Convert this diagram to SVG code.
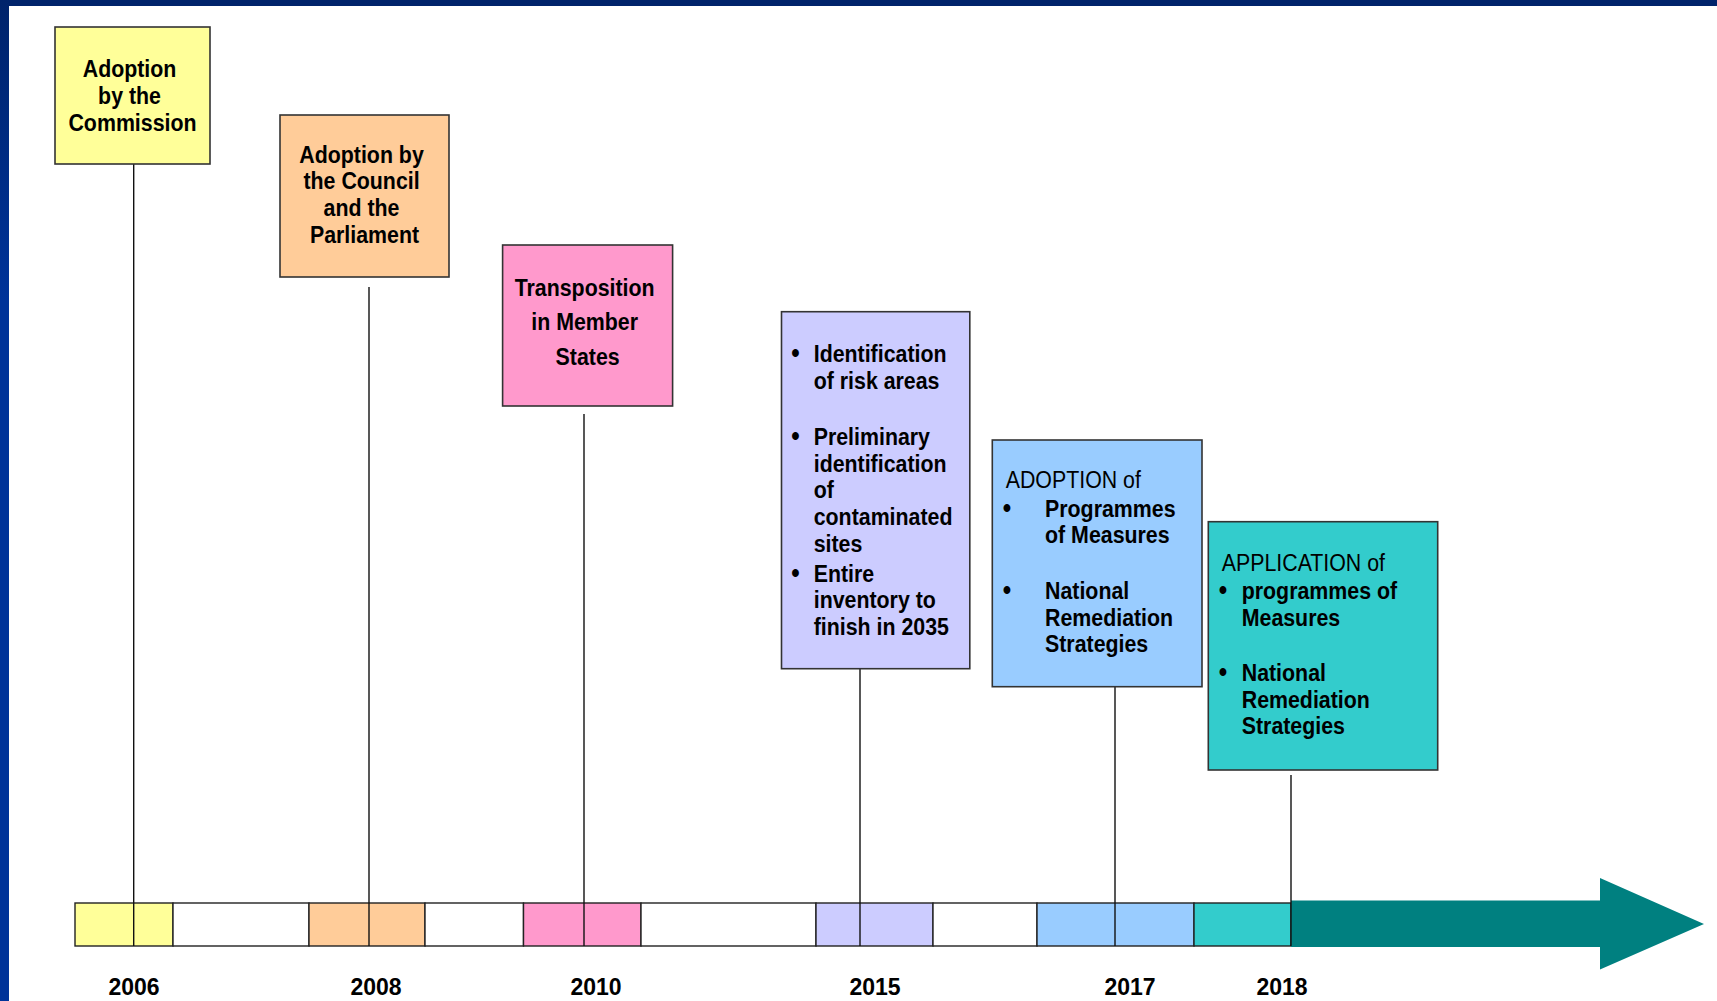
<svg xmlns="http://www.w3.org/2000/svg" width="1717" height="1001" viewBox="0 0 1717 1001">
<defs>
<linearGradient id="lg" x1="0" y1="0" x2="0" y2="1">
<stop offset="0" stop-color="#00236b"/>
<stop offset="0.3" stop-color="#003399"/>
<stop offset="1" stop-color="#003399"/>
</linearGradient>
<style>
.box{stroke:#333;stroke-width:1.6}
.t{font-family:"Liberation Sans",Arial,sans-serif;font-weight:bold;font-size:24px;fill:#000}
.n{font-weight:normal}
.b{font-size:27px}
.yr{font-family:"Liberation Sans",Arial,sans-serif;font-weight:bold;font-size:23px;fill:#000;text-anchor:middle}
.c{stroke:#111;stroke-width:1.4;fill:none}
.seg{stroke:#222;stroke-width:1.4}
</style>
</defs>
<rect x="0" y="0" width="1717" height="1001" fill="#fff"/>
<rect x="0" y="0" width="1717" height="6" fill="#00236b"/>
<rect x="0" y="0" width="9" height="1001" fill="url(#lg)"/>

<g id="timeline">
<rect class="seg" x="75" y="903" width="98" height="43" fill="#ffff99"/>
<rect class="seg" x="173" y="903" width="136" height="43" fill="#fff"/>
<rect class="seg" x="309" y="903" width="116" height="43" fill="#ffcc99"/>
<rect class="seg" x="425" y="903" width="98.5" height="43" fill="#fff"/>
<rect class="seg" x="523.5" y="903" width="117.5" height="43" fill="#ff99cc"/>
<rect class="seg" x="641" y="903" width="175" height="43" fill="#fff"/>
<rect class="seg" x="816" y="903" width="117" height="43" fill="#ccccff"/>
<rect class="seg" x="933" y="903" width="104" height="43" fill="#fff"/>
<rect class="seg" x="1037" y="903" width="157" height="43" fill="#99ccff"/>
<rect class="seg" x="1194" y="903" width="97" height="43" fill="#33cccc"/>
<polygon points="1291,900.5 1600,900.5 1600,878 1704,924 1600,969.5 1600,947 1291,947" fill="#008080"/>
</g>

<g id="connectors">
<line class="c" x1="133.7" y1="162" x2="133.7" y2="946"/>
<line class="c" x1="369" y1="287" x2="369" y2="946"/>
<line class="c" x1="584" y1="414" x2="584" y2="946"/>
<line class="c" x1="860" y1="669" x2="860" y2="946"/>
<line class="c" x1="1115" y1="687" x2="1115" y2="946"/>
<line class="c" x1="1291" y1="775" x2="1291" y2="946"/>
</g>

<g id="years">
<text class="yr" x="134" y="995">2006</text>
<text class="yr" x="376" y="995">2008</text>
<text class="yr" x="596" y="995">2010</text>
<text class="yr" x="875" y="995">2015</text>
<text class="yr" x="1130" y="995">2017</text>
<text class="yr" x="1282" y="995">2018</text>
</g>

<g id="commission">
<rect class="box" x="55" y="27" width="155" height="137" fill="#ffff99"/>
<text class="t" text-anchor="middle" transform="translate(132.5,0) scale(0.89,1)">
<tspan x="0" y="77.3">Adoption</tspan>
<tspan x="0" y="104">by the</tspan>
<tspan x="0" y="130.7">Commission</tspan>
</text>
</g>

<g id="council">
<rect class="box" x="280" y="115" width="169" height="162" fill="#ffcc99"/>
<text class="t" text-anchor="middle" transform="translate(364.5,0) scale(0.89,1)">
<tspan x="0" y="162.7">Adoption by</tspan>
<tspan x="0" y="189.4">the Council</tspan>
<tspan x="0" y="216.1">and the</tspan>
<tspan x="0" y="242.8">Parliament</tspan>
</text>
</g>

<g id="transposition">
<rect class="box" x="502.6" y="245" width="170" height="161" fill="#ff99cc"/>
<text class="t" text-anchor="middle" transform="translate(587.6,0) scale(0.89,1)">
<tspan x="0" y="295.7">Transposition</tspan>
<tspan x="0" y="330.3">in Member</tspan>
<tspan x="0" y="365">States</tspan>
</text>
</g>

<g id="identification">
<rect class="box" x="781.5" y="311.7" width="188.3" height="357" fill="#ccccff"/>
<text class="t" transform="translate(813.7,0) scale(0.89,1)">
<tspan class="b" x="-17.3" y="362.3" text-anchor="middle">•</tspan>
<tspan x="0" y="362.3">Identification</tspan>
<tspan x="0" y="389">of risk areas</tspan>
<tspan class="b" x="-17.3" y="445" text-anchor="middle">•</tspan>
<tspan x="0" y="445">Preliminary</tspan>
<tspan x="0" y="471.7">identification</tspan>
<tspan x="0" y="498.4">of</tspan>
<tspan x="0" y="525.1">contaminated</tspan>
<tspan x="0" y="551.8">sites</tspan>
<tspan class="b" x="-17.3" y="581.7" text-anchor="middle">•</tspan>
<tspan x="0" y="581.7">Entire</tspan>
<tspan x="0" y="608.4">inventory to</tspan>
<tspan x="0" y="635.1">finish in 2035</tspan>
</text>
</g>

<g id="adoption-programmes">
<rect class="box" x="992.3" y="440" width="209.7" height="246.7" fill="#99ccff"/>
<text class="t" transform="translate(1005.7,0) scale(0.89,1)">
<tspan class="n" x="0" y="487.7">ADOPTION of</tspan>
<tspan class="b" x="4.8" y="516.7" text-anchor="middle">•</tspan>
<tspan x="44.2" y="516.7">Programmes</tspan>
<tspan x="44.2" y="542.7">of Measures</tspan>
<tspan class="b" x="4.8" y="599.3" text-anchor="middle">•</tspan>
<tspan x="44.2" y="599.3">National</tspan>
<tspan x="44.2" y="625.8">Remediation</tspan>
<tspan x="44.2" y="652">Strategies</tspan>
</text>
</g>

<g id="application-programmes">
<rect class="box" x="1208.3" y="521.7" width="229.4" height="248.3" fill="#33cccc"/>
<text class="t" transform="translate(1221.7,0) scale(0.89,1)">
<tspan class="n" x="0" y="570.7">APPLICATION of</tspan>
<tspan class="b" x="4.8" y="599.3" text-anchor="middle">•</tspan>
<tspan x="22.5" y="599.3">programmes of</tspan>
<tspan x="22.5" y="625.7">Measures</tspan>
<tspan class="b" x="4.8" y="681" text-anchor="middle">•</tspan>
<tspan x="22.5" y="681">National</tspan>
<tspan x="22.5" y="707.7">Remediation</tspan>
<tspan x="22.5" y="734">Strategies</tspan>
</text>
</g>
</svg>
